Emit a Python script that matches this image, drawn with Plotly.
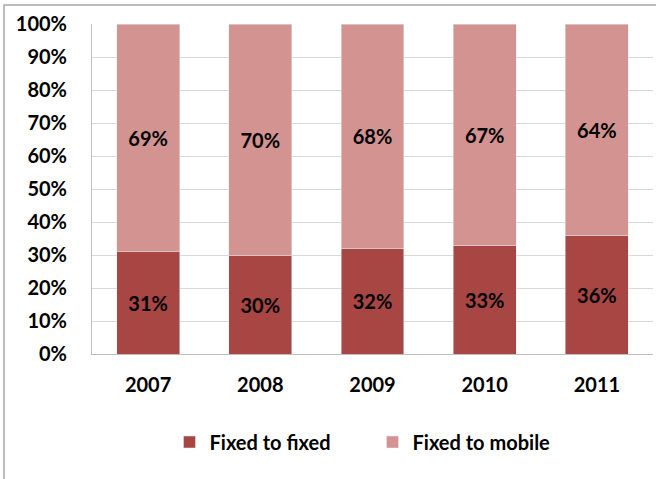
import plotly.graph_objects as go

years = ["2007", "2008", "2009", "2010", "2011"]
fixed_to_fixed = [31, 30, 32, 33, 36]
fixed_to_mobile = [69, 70, 68, 67, 64]
y_ticks = [0, 10, 20, 30, 40, 50, 60, 70, 80, 90, 100]
y_tick_labels = [f"{v}%" for v in y_ticks]

FONT = "Lato"
SIZE = 20
dark = "#A84644"
light = "#D39391"

fig = go.Figure()
fig.add_bar(x=years, y=fixed_to_fixed, name="Fixed to fixed", marker_color=dark,
            text=[f"{v}%" for v in fixed_to_fixed], textposition="inside",
            insidetextanchor="middle",
            textfont=dict(family=FONT, size=SIZE, color="black", weight="bold"))
fig.add_bar(x=years, y=fixed_to_mobile, name="Fixed to mobile", marker_color=light,
            text=[f"{v}%" for v in fixed_to_mobile], textposition="inside",
            insidetextanchor="middle",
            textfont=dict(family=FONT, size=SIZE, color="black", weight="bold"))

fig.update_layout(
    barmode="stack",
    bargap=0.44,
    width=656, height=479,
    margin=dict(l=92, r=3, t=24, b=125),
    paper_bgcolor="white", plot_bgcolor="white",
    font=dict(family=FONT, size=SIZE, color="black", weight="bold"),
    uniformtext=dict(mode=False),
    legend=dict(orientation="h", x=0.5, xanchor="center", y=(354 - 442) / 330, yanchor="middle",
                font=dict(family=FONT, size=SIZE, color="black", weight="bold"),
                itemwidth=30, traceorder="normal", entrywidth=158, entrywidthmode="pixels"),
    showlegend=True,
)
fig.update_yaxes(range=[0, 100], tickvals=y_ticks, ticktext=y_tick_labels,
                 showgrid=True, gridcolor="#D9D9D9", gridwidth=1,
                 showline=True, linecolor="#BFBFBF", linewidth=1,
                 ticks="", ticklabelstandoff=20, zeroline=False,
                 tickfont=dict(family=FONT, size=SIZE, color="black", weight="bold"))
fig.update_xaxes(showline=True, linecolor="#BFBFBF", linewidth=1, ticks="",
                 ticklabelstandoff=13,
                 tickfont=dict(family=FONT, size=SIZE, color="black", weight="bold"))

# outer chart frame (partially off-canvas as in the reference)
fig.add_shape(type="rect", xref="paper", yref="paper",
              x0=(4 - 92) / 561, x1=1.2, y0=-0.6, y1=(354 - 5) / 330,
              line=dict(color="#A6A6A6", width=1.5), fillcolor="rgba(0,0,0,0)", layer="below")

fig.write_html("out.html", post_script="document.body.style.margin='0';",
               config={"displayModeBar": False})
